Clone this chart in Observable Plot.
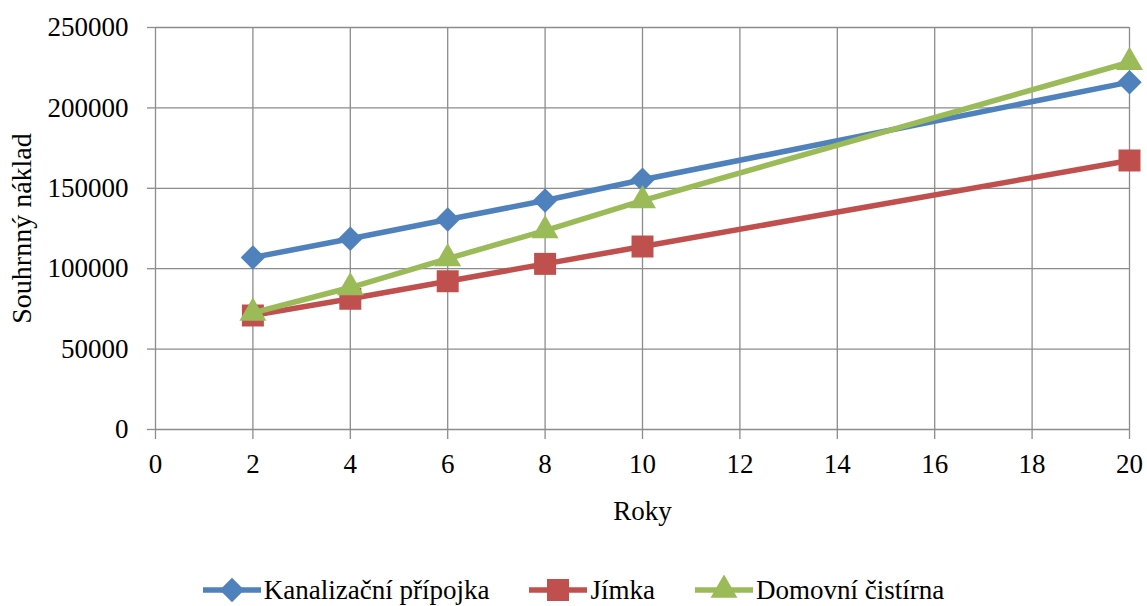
<!DOCTYPE html>
<html><head><meta charset="utf-8">
<script src="https://cdn.jsdelivr.net/npm/d3@7"></script>
<script src="https://cdn.jsdelivr.net/npm/@observablehq/plot@0.6"></script>
<style>
body{margin:0;background:#fff;font-family:"Liberation Serif","DejaVu Serif",serif;}
#legend{display:flex;justify-content:center;align-items:center;gap:40px;margin-top:30px;height:30px;font-size:27px;color:#000;font-family:"Liberation Serif",serif;}
.item{display:flex;align-items:center;}
.item span{margin-left:3px;line-height:30px;}
</style></head><body><div id="chart"></div><div id="legend"></div>
<script>
const years=[2,4,6,8,10,20];
const kanalizace=[107000,118600,130600,142400,155300,216000];
const jimka=[70900,81300,92200,103000,113800,167300];
const cistirna=[72500,88300,106300,123700,142400,228400];
const series=["Kanalizační přípojka","Jímka","Domovní čistírna"];
const colors=["#4F81BD","#C0504D","#9BBB59"];
const xTicks=[0,2,4,6,8,10,12,14,16,18,20];
const yTicks=[0,50000,100000,150000,200000,250000];
const xLabel="Roky";
const yLabel="Souhrnný náklad";

const values=[kanalizace,jimka,cistirna];
const symbols=[d3.symbolDiamond2,d3.symbolSquare,d3.symbolTriangle];
const radii=[11,12.4,10];
const data=series.flatMap((s,i)=>years.map((yr,j)=>({series:s,year:yr,value:values[i][j]})));
const grid="#8c8c8c";

const marks=[
  Plot.gridX(xTicks,{stroke:grid,strokeOpacity:1,strokeWidth:1.3}),
  Plot.gridY(yTicks,{stroke:grid,strokeOpacity:1,strokeWidth:1.3}),
  Plot.axisX(xTicks,{label:null,tickSize:10,tickPadding:14,stroke:grid,strokeWidth:1.3,fill:"#000",fontSize:27,tickFormat:d=>String(d)}),
  Plot.axisY(yTicks,{label:null,tickSize:8,tickPadding:19,stroke:grid,strokeWidth:1.3,fill:"#000",fontSize:27,tickFormat:d=>String(d)}),
  Plot.text([xLabel],{frameAnchor:"bottom",dy:82,fontSize:27,fill:"#000",lineAnchor:"middle"}),
  Plot.text([yLabel],{frameAnchor:"left",dx:-133,rotate:-90,textAnchor:"middle",fontSize:28,fill:"#000",lineAnchor:"middle"})
];
series.forEach((s,i)=>{
  const d=data.filter(r=>r.series===s);
  marks.push(Plot.line(d,{x:"year",y:"value",stroke:colors[i],strokeWidth:5.5}));
  marks.push(Plot.dot(d,{x:"year",y:"value",fill:colors[i],stroke:"none",symbol:symbols[i],r:radii[i]}));
});

const chart=Plot.plot({
  width:1147,height:545,
  marginLeft:155,marginRight:18,marginTop:27,marginBottom:116,
  style:{fontFamily:"Liberation Serif",fontSize:"27px",background:"#fff",color:"#000"},
  x:{domain:[0,20],axis:null,label:null},
  y:{domain:[0,250000],axis:null,label:null},
  marks
});
document.getElementById("chart").appendChild(chart);

const legend=document.getElementById("legend");
series.forEach((s,i)=>{
  const item=document.createElement("div");
  item.className="item";
  const sym=d3.symbol(symbols[i],Math.PI*radii[i]*radii[i])();
  item.innerHTML=`<svg width="58" height="30"><line x1="0" x2="58" y1="15" y2="15" stroke="${colors[i]}" stroke-width="5.5"/><path d="${sym}" transform="translate(29,15)" fill="${colors[i]}"/></svg><span>${s}</span>`;
  legend.appendChild(item);
});
</script></body></html>
